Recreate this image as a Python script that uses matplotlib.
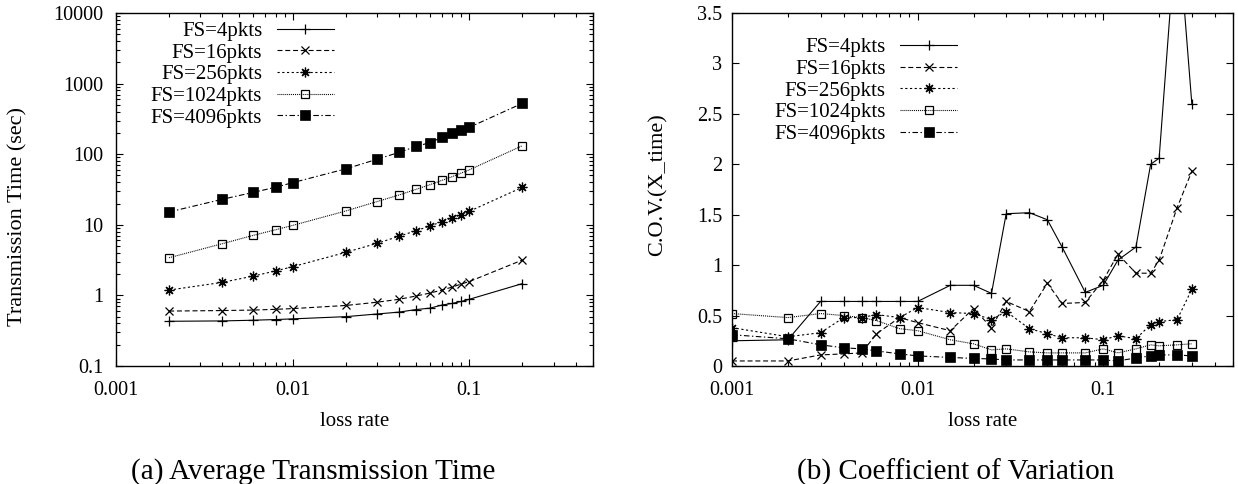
import matplotlib
matplotlib.use("Agg")
import matplotlib.pyplot as plt
from matplotlib.ticker import FixedLocator, LogLocator, NullFormatter

plt.rcParams['font.family'] = ['Liberation Serif', 'DejaVu Serif']
plt.rcParams['lines.scale_dashes'] = False

# ---------------- data ----------------
labels = ["FS=4pkts", "FS=16pkts", "FS=256pkts", "FS=1024pkts", "FS=4096pkts"]

# (a) average transmission time
loss_a = [0.002, 0.004, 0.006, 0.008, 0.01, 0.02, 0.03, 0.04, 0.05, 0.06,
          0.07, 0.08, 0.09, 0.1, 0.2]
time_fs4 = [0.43, 0.435, 0.445, 0.455, 0.465, 0.50, 0.545, 0.58, 0.63, 0.66,
            0.73, 0.77, 0.82, 0.88, 1.47]
time_fs16 = [0.60, 0.61, 0.62, 0.635, 0.65, 0.72, 0.80, 0.88, 0.98, 1.08,
             1.19, 1.31, 1.45, 1.57, 3.17]
time_fs256 = [1.19, 1.53, 1.88, 2.22, 2.55, 4.07, 5.46, 6.87, 8.26, 9.6,
              11.1, 12.5, 13.9, 15.5, 34.0]
time_fs1024 = [3.42, 5.4, 7.1, 8.5, 9.8, 15.7, 21.3, 26.4, 31.8, 37.0,
               42.6, 48.0, 54.0, 60.0, 132.0]
time_fs4096 = [15.2, 23.0, 28.8, 34.0, 39.5, 62.0, 84.6, 106.0, 129.0, 146.0,
               173.0, 198.0, 218.0, 240.0, 526.0]

# (b) coefficient of variation
loss_b = [0.001, 0.002, 0.003, 0.004, 0.005, 0.006, 0.008, 0.01, 0.015, 0.02,
          0.025, 0.03, 0.04, 0.05, 0.06, 0.08, 0.1, 0.12, 0.15, 0.18, 0.2,
          0.25, 0.3]
cov_fs4 = [0.25, 0.26, 0.64, 0.64, 0.64, 0.64, 0.64, 0.64, 0.80, 0.80,
           0.72, 1.51, 1.52, 1.45, 1.18, 0.73, 0.80, 1.05, 1.18, 2.00, 2.06,
           4.45, 2.60]
cov_fs16 = [0.05, 0.05, 0.11, 0.12, 0.13, 0.32, 0.48, 0.43, 0.35, 0.57,
            0.38, 0.64, 0.54, 0.82, 0.62, 0.63, 0.85, 1.11, 0.92, 0.92, 1.05,
            1.57, 1.93]
cov_fs256 = [0.38, 0.29, 0.33, 0.48, 0.48, 0.51, 0.48, 0.58, 0.53, 0.52,
             0.46, 0.54, 0.37, 0.32, 0.28, 0.28, 0.26, 0.30, 0.27, 0.41, 0.44,
             0.46, 0.76]
cov_fs1024 = [0.52, 0.48, 0.52, 0.50, 0.48, 0.45, 0.37, 0.35, 0.26, 0.22,
              0.16, 0.17, 0.14, 0.13, 0.13, 0.13, 0.17, 0.13, 0.17, 0.21, 0.20,
              0.21, 0.22]
cov_fs4096 = [0.31, 0.27, 0.21, 0.18, 0.17, 0.15, 0.12, 0.10, 0.085, 0.075,
              0.07, 0.06, 0.06, 0.06, 0.06, 0.06, 0.06, 0.05, 0.08, 0.10, 0.11,
              0.11, 0.10]

x_ticks = [0.001, 0.01, 0.1]
x_ticklabels = ["0.001", "0.01", "0.1"]
ya_ticks = [0.1, 1, 10, 100, 1000, 10000]
ya_ticklabels = ["0.1", "1", "10", "100", "1000", "10000"]
yb_ticks = [0, 0.5, 1, 1.5, 2, 2.5, 3, 3.5]
yb_ticklabels = ["0", "0.5", "1", "1.5", "2", "2.5", "3", "3.5"]

# ---------------- styles ----------------
styles = [
    dict(linestyle='-', marker='+', ms=6.5, mew=0.9, mfc='none'),
    dict(linestyle=(0, (3.6, 2.0)), marker='x', ms=5.5, mew=0.9, mfc='none'),
    dict(linestyle=(0, (1.6, 1.8)), marker=(8, 2, 0), ms=7, mew=0.9, mfc='none'),
    dict(linestyle=(0, (0.7, 0.7)), marker='s', ms=6, mew=0.9, mfc='none'),
    dict(linestyle=(0, (4.0, 1.8, 1.0, 1.8)), marker='s', ms=6.5, mew=0.5, mfc='black'),
]

TICK_FS = 14.5
LEG_FS = 15

fig = plt.figure(figsize=(12.38, 4.84), dpi=100)
W, H = 1238, 484
axA = fig.add_axes([116 / W, (H - 366) / H, (592.7 - 116) / W, 353 / H])
axB = fig.add_axes([732 / W, (H - 366) / H, (1233 - 732) / W, 353 / H])

seriesA = [time_fs4, time_fs16, time_fs256, time_fs1024, time_fs4096]
seriesB = [cov_fs4, cov_fs16, cov_fs256, cov_fs1024, cov_fs4096]

for lab, ys, st in zip(labels, seriesA, styles):
    axA.plot(loss_a, ys, color='black', lw=0.8, mec='black', label=lab, **st)
for lab, ys, st in zip(labels, seriesB, styles):
    axB.plot(loss_b, ys, color='black', lw=0.8, mec='black', label=lab, **st)

for ax in (axA, axB):
    ax.set_xscale('log')
    ax.set_xlim(0.001, 0.5)
    ax.xaxis.set_major_locator(FixedLocator(x_ticks))
    ax.set_xticklabels(x_ticklabels)
    ax.xaxis.set_minor_locator(LogLocator(base=10, subs=[2, 3, 4, 5, 6, 7, 8, 9]))
    ax.xaxis.set_minor_formatter(NullFormatter())
    ax.tick_params(which='both', direction='in', top=True, right=True,
                   labelsize=TICK_FS, width=0.8)
    ax.tick_params(axis='x', pad=10.5)
    ax.tick_params(which='major', length=5)
    ax.tick_params(which='minor', length=3)
    for s in ax.spines.values():
        s.set_linewidth(1.0)
    ax.set_xlabel("loss rate", fontsize=15, labelpad=9)

axA.set_yscale('log')
axA.set_ylim(0.1, 10000)
axA.yaxis.set_major_locator(FixedLocator(ya_ticks))
axA.set_yticklabels(ya_ticklabels)
axA.yaxis.set_minor_locator(LogLocator(base=10, subs=[2, 3, 4, 5, 6, 7, 8, 9]))
axA.yaxis.set_minor_formatter(NullFormatter())
axA.tick_params(axis='y', pad=9)

axB.set_ylim(0, 3.5)
axB.yaxis.set_major_locator(FixedLocator(yb_ticks))
axB.set_yticklabels(yb_ticklabels)
axB.tick_params(axis='y', which='minor', left=False, right=False)
axB.tick_params(axis='y', pad=7)

fig.text(18 / W, 1 - 217 / H, "Transmission Time (sec)", rotation=90,
         ha='center', va='center', fontsize=16)
fig.text(658 / W, 1 - 185 / H, "C.O.V.(X_time)", rotation=90,
         ha='center', va='center', fontsize=16)

fig.text(313 / W, 1 - 472 / H, "(a) Average Transmission Time",
         ha='center', va='center', fontsize=21)
fig.text(956 / W, 1 - 472 / H, "(b) Coefficient of Variation",
         ha='center', va='center', fontsize=21)

legA = axA.legend(loc='upper left', bbox_to_anchor=(0.073, 0.976), frameon=False,
                  markerfirst=False, fontsize=LEG_FS, handlelength=2.75,
                  handletextpad=0.7, labelspacing=0.1, borderpad=0,
                  borderaxespad=0)
legB = axB.legend(loc='upper left', bbox_to_anchor=(0.084, 0.93), frameon=False,
                  markerfirst=False, fontsize=LEG_FS, handlelength=2.75,
                  handletextpad=0.7, labelspacing=0.1, borderpad=0,
                  borderaxespad=0)

for leg in (legA, legB):
    for t in leg.get_texts():
        t.set_ha('right')
        t.set_position((0, 0))

fig.savefig("out.png", dpi=100)
